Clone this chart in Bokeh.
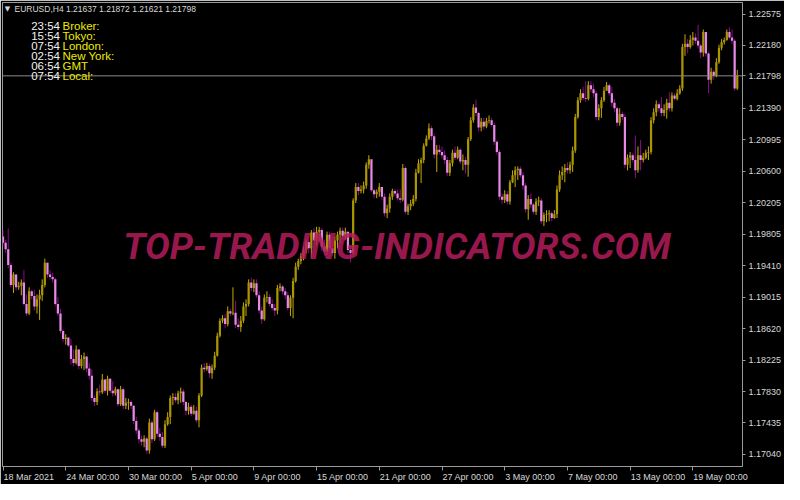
from bokeh.plotting import figure
from bokeh.models import (ColumnDataSource, FixedTicker, NumeralTickFormatter,
                          Label, Span, Range1d)
from bokeh.embed import file_html
from bokeh.resources import INLINE

# ---------------- data ----------------
symbol = "EURUSD,H4"
bar_ohlc_text = "1.21637 1.21872 1.21621 1.21798"
first_open = 1.1978
last_price = 1.21798

closes = [
    1.1970, 1.1962, 1.1942, 1.1917, 1.1930, 1.1914, 1.1916, 1.1920, 1.1893, 1.1881,
    1.1909, 1.1903, 1.1890, 1.1899, 1.1904, 1.1917, 1.1945, 1.1930, 1.1927, 1.1924,
    1.1893, 1.1881, 1.1859, 1.1849, 1.1851, 1.1841, 1.1824, 1.1819, 1.1836, 1.1815,
    1.1824, 1.1827, 1.1812, 1.1803, 1.1775, 1.1770, 1.1783, 1.1782, 1.1798, 1.1784,
    1.1799, 1.1784, 1.1781, 1.1786, 1.1767, 1.1786, 1.1765, 1.1769, 1.1770, 1.1765,
    1.1746, 1.1734, 1.1723, 1.1720, 1.1724, 1.1709, 1.1744, 1.1723, 1.1757, 1.1730,
    1.1726, 1.1715, 1.1742, 1.1751, 1.1775, 1.1776, 1.1772, 1.1781, 1.1783, 1.1770,
    1.1759, 1.1764, 1.1755, 1.1759, 1.1747, 1.1778, 1.1813, 1.1811, 1.1815, 1.1806,
    1.1813, 1.1828, 1.1853, 1.1872, 1.1875, 1.1868, 1.1884, 1.1881, 1.1882, 1.1867,
    1.1864, 1.1872, 1.1890, 1.1893, 1.1920, 1.1913, 1.1919, 1.1904, 1.1885, 1.1874,
    1.1901, 1.1902, 1.1893, 1.1888, 1.1885, 1.1913, 1.1915, 1.1909, 1.1904, 1.1888,
    1.1901, 1.1922, 1.1940, 1.1947, 1.1953, 1.1961, 1.1971, 1.1963, 1.1983, 1.1973,
    1.1984, 1.1986, 1.1965, 1.1959, 1.1980, 1.1963, 1.1957, 1.1973, 1.1980, 1.1985,
    1.1978, 1.1984, 1.1961, 1.1957, 1.2023, 1.2040, 1.2035, 1.2037, 1.2042, 1.2068,
    1.2075, 1.2036, 1.2031, 1.2034, 1.2040, 1.2028, 1.2007, 1.2013, 1.2028, 1.2035,
    1.2032, 1.2026, 1.2024, 1.2064, 1.2009, 1.2016, 1.2019, 1.2025, 1.2058, 1.2070,
    1.2074, 1.2092, 1.2101, 1.2114, 1.2104, 1.2081, 1.2087, 1.2084, 1.2080, 1.2074,
    1.2058, 1.2070, 1.2083, 1.2077, 1.2087, 1.2072, 1.2074, 1.2068, 1.2100, 1.2124,
    1.2140, 1.2133, 1.2115, 1.2122, 1.2116, 1.2123, 1.2124, 1.2118, 1.2097, 1.2084,
    1.2028, 1.2024, 1.2031, 1.2022, 1.2046, 1.2055, 1.2061, 1.2063, 1.2055, 1.2042,
    1.2012, 1.2025, 1.2018, 1.2009, 1.2022, 1.2023, 1.1997, 1.2005, 1.2006, 1.2007,
    1.2001, 1.2006, 1.2037, 1.2055, 1.2059, 1.2064, 1.2061, 1.2068, 1.2086, 1.2128,
    1.2149, 1.2158, 1.2152, 1.2151, 1.2168, 1.2163, 1.2158, 1.2128, 1.2139, 1.2149,
    1.2161, 1.2168, 1.2158, 1.2146, 1.2139, 1.2121, 1.2132, 1.2128, 1.2068, 1.2077,
    1.2080, 1.2074, 1.2061, 1.2080, 1.2074, 1.2077, 1.2083, 1.2084, 1.2124, 1.2134,
    1.2144, 1.2139, 1.2133, 1.2137, 1.2146, 1.2139, 1.2155, 1.2151, 1.2158, 1.2164,
    1.2216, 1.2220, 1.2216, 1.2225, 1.2228, 1.2224, 1.2218, 1.2209, 1.2235, 1.2208,
    1.2175, 1.2185, 1.2180, 1.2197, 1.2215, 1.2222, 1.2225, 1.2235, 1.2228, 1.2224,
    1.2164, 1.21798,
]

highs = [
    1.1986, 1.1974, 1.1988, 1.1945, 1.1933, 1.1931, 1.1921, 1.1924, 1.1936, 1.1905,
    1.1914, 1.1911, 1.1911, 1.1905, 1.1911, 1.1924, 1.1950, 1.1945, 1.1936, 1.1932,
    1.1926, 1.1902, 1.1887, 1.1861, 1.1855, 1.1851, 1.1849, 1.1836, 1.1841, 1.1836,
    1.1829, 1.1832, 1.1827, 1.1819, 1.1811, 1.1778, 1.1787, 1.1792, 1.1805, 1.1798,
    1.1803, 1.1800, 1.1796, 1.1789, 1.1787, 1.1790, 1.1788, 1.1775, 1.1774, 1.1772,
    1.1766, 1.1751, 1.1737, 1.1728, 1.1728, 1.1726, 1.1749, 1.1747, 1.1760, 1.1759,
    1.1737, 1.1732, 1.1747, 1.1757, 1.1778, 1.1781, 1.1781, 1.1784, 1.1788, 1.1786,
    1.1771, 1.1769, 1.1766, 1.1766, 1.1764, 1.1781, 1.1817, 1.1819, 1.1819, 1.1818,
    1.1817, 1.1833, 1.1857, 1.1875, 1.1879, 1.1880, 1.1890, 1.1887, 1.1914, 1.1897,
    1.1875, 1.1878, 1.1895, 1.1899, 1.1924, 1.1926, 1.1924, 1.1924, 1.1909, 1.1890,
    1.1905, 1.1909, 1.1905, 1.1899, 1.1893, 1.1917, 1.1919, 1.1917, 1.1913, 1.1908,
    1.1904, 1.1926, 1.1945, 1.1950, 1.1957, 1.1965, 1.1974, 1.1972, 1.1986, 1.1989,
    1.1990, 1.1990, 1.1989, 1.1974, 1.1984, 1.1984, 1.1976, 1.1978, 1.1984, 1.1989,
    1.1989, 1.1989, 1.1984, 1.1966, 1.2026, 1.2045, 1.2045, 1.2042, 1.2047, 1.2071,
    1.2080, 1.2075, 1.2038, 1.2037, 1.2045, 1.2040, 1.2032, 1.2018, 1.2032, 1.2038,
    1.2038, 1.2037, 1.2037, 1.2069, 1.2066, 1.2019, 1.2024, 1.2030, 1.2063, 1.2075,
    1.2077, 1.2095, 1.2105, 1.2120, 1.2117, 1.2107, 1.2093, 1.2093, 1.2091, 1.2086,
    1.2078, 1.2074, 1.2087, 1.2091, 1.2091, 1.2089, 1.2081, 1.2078, 1.2103, 1.2128,
    1.2144, 1.2150, 1.2135, 1.2127, 1.2127, 1.2127, 1.2130, 1.2127, 1.2121, 1.2099,
    1.2087, 1.2032, 1.2036, 1.2035, 1.2049, 1.2061, 1.2066, 1.2066, 1.2066, 1.2059,
    1.2045, 1.2030, 1.2032, 1.2020, 1.2026, 1.2028, 1.2026, 1.2008, 1.2011, 1.2011,
    1.2009, 1.2011, 1.2042, 1.2061, 1.2066, 1.2069, 1.2071, 1.2072, 1.2091, 1.2132,
    1.2153, 1.2163, 1.2166, 1.2173, 1.2173, 1.2173, 1.2170, 1.2161, 1.2144, 1.2153,
    1.2166, 1.2172, 1.2170, 1.2166, 1.2151, 1.2141, 1.2139, 1.2135, 1.2132, 1.2081,
    1.2084, 1.2083, 1.2105, 1.2091, 1.2099, 1.2083, 1.2087, 1.2091, 1.2128, 1.2139,
    1.2149, 1.2147, 1.2153, 1.2144, 1.2151, 1.2159, 1.2159, 1.2158, 1.2163, 1.2168,
    1.2220, 1.2232, 1.2226, 1.2231, 1.2235, 1.2233, 1.2244, 1.2220, 1.2238, 1.2235,
    1.2210, 1.2190, 1.2187, 1.2202, 1.2219, 1.2226, 1.2228, 1.2238, 1.2241, 1.2238,
    1.2226, 1.21872,
]

lows = [
    1.1966, 1.1957, 1.1938, 1.1914, 1.1907, 1.1910, 1.1911, 1.1904, 1.1891, 1.1878,
    1.1879, 1.1899, 1.1885, 1.1881, 1.1873, 1.1897, 1.1914, 1.1926, 1.1924, 1.1920,
    1.1890, 1.1878, 1.1856, 1.1845, 1.1842, 1.1839, 1.1817, 1.1815, 1.1817, 1.1811,
    1.1812, 1.1810, 1.1807, 1.1798, 1.1771, 1.1765, 1.1766, 1.1778, 1.1780, 1.1781,
    1.1778, 1.1781, 1.1777, 1.1778, 1.1764, 1.1765, 1.1761, 1.1761, 1.1760, 1.1761,
    1.1742, 1.1730, 1.1718, 1.1715, 1.1713, 1.1705, 1.1705, 1.1718, 1.1721, 1.1726,
    1.1721, 1.1712, 1.1712, 1.1740, 1.1742, 1.1766, 1.1769, 1.1767, 1.1769, 1.1766,
    1.1753, 1.1754, 1.1752, 1.1754, 1.1744, 1.1738, 1.1776, 1.1807, 1.1809, 1.1800,
    1.1799, 1.1810, 1.1827, 1.1851, 1.1869, 1.1863, 1.1865, 1.1878, 1.1879, 1.1863,
    1.1861, 1.1858, 1.1869, 1.1878, 1.1890, 1.1909, 1.1908, 1.1901, 1.1881, 1.1868,
    1.1872, 1.1895, 1.1890, 1.1885, 1.1878, 1.1880, 1.1909, 1.1905, 1.1899, 1.1885,
    1.1878, 1.1875, 1.1920, 1.1936, 1.1943, 1.1948, 1.1957, 1.1957, 1.1951, 1.1968,
    1.1967, 1.1972, 1.1960, 1.1954, 1.1955, 1.1960, 1.1953, 1.1950, 1.1963, 1.1970,
    1.1974, 1.1974, 1.1957, 1.1945, 1.1955, 1.2020, 1.2030, 1.2032, 1.2032, 1.2038,
    1.2063, 1.2034, 1.2026, 1.2026, 1.2028, 1.2024, 1.2003, 1.2001, 1.2008, 1.2024,
    1.2029, 1.2023, 1.2020, 1.2022, 1.2006, 1.2005, 1.2011, 1.2016, 1.2022, 1.2057,
    1.2045, 1.2070, 1.2091, 1.2099, 1.2099, 1.2076, 1.2059, 1.2081, 1.2076, 1.2069,
    1.2054, 1.2054, 1.2066, 1.2074, 1.2075, 1.2069, 1.2061, 1.2057, 1.2053, 1.2098,
    1.2121, 1.2129, 1.2110, 1.2110, 1.2112, 1.2114, 1.2120, 1.2116, 1.2093, 1.2081,
    1.2024, 1.2019, 1.2020, 1.2018, 1.2018, 1.2045, 1.2040, 1.2049, 1.2052, 1.2037,
    1.2008, 1.1999, 1.2014, 1.2006, 1.2005, 1.2016, 1.1994, 1.1991, 1.1996, 1.1997,
    1.1997, 1.2000, 1.2001, 1.2034, 1.2049, 1.2046, 1.2057, 1.2057, 1.2059, 1.2083,
    1.2126, 1.2146, 1.2149, 1.2147, 1.2149, 1.2159, 1.2153, 1.2124, 1.2124, 1.2127,
    1.2147, 1.2161, 1.2155, 1.2141, 1.2134, 1.2117, 1.2117, 1.2124, 1.2064, 1.2061,
    1.2064, 1.2071, 1.2051, 1.2058, 1.2061, 1.2071, 1.2075, 1.2074, 1.2081, 1.2120,
    1.2129, 1.2135, 1.2129, 1.2129, 1.2126, 1.2135, 1.2135, 1.2149, 1.2149, 1.2156,
    1.2161, 1.2205, 1.2208, 1.2214, 1.2218, 1.2220, 1.2214, 1.2202, 1.2204, 1.2204,
    1.2158, 1.2170, 1.2175, 1.2178, 1.2195, 1.2212, 1.2219, 1.2224, 1.2226, 1.2220,
    1.2161, 1.21621,
]

x_tick_bars = [0, 24, 48, 72, 96, 120, 144, 168, 192, 216, 240, 264]
x_tick_labels = ["18 Mar 2021", "24 Mar 00:00", "30 Mar 00:00", "5 Apr 00:00",
                 "9 Apr 00:00", "15 Apr 00:00", "21 Apr 00:00", "27 Apr 00:00",
                 "3 May 00:00", "7 May 00:00", "13 May 00:00", "19 May 00:00"]
y_ticks = [1.17040, 1.17435, 1.17830, 1.18225, 1.18620, 1.19015, 1.19410,
           1.19805, 1.20205, 1.20600, 1.20995, 1.21390, 1.22180, 1.22575]

clock_times = ["23:54", "15:54", "07:54", "02:54", "06:54", "07:54"]
clock_names = ["Broker:", "Tokyo:", "London:", "New York:", "GMT", "Local:"]
watermark = "TOP-TRADING-INDICATORS.COM"

# ---------------- derived ----------------
opens = [first_open] + closes[:-1]
idx = list(range(len(closes)))
bull_i = [i for i in idx if closes[i] >= opens[i]]
bear_i = [i for i in idx if closes[i] < opens[i]]


def pick(arr, ids):
    return [arr[i] for i in ids]


bull = ColumnDataSource(dict(x=bull_i, o=pick(opens, bull_i), c=pick(closes, bull_i),
                             h=pick(highs, bull_i), l=pick(lows, bull_i)))
bear = ColumnDataSource(dict(x=bear_i, o=pick(opens, bear_i), c=pick(closes, bear_i),
                             h=pick(highs, bear_i), l=pick(lows, bear_i)))

# ---------------- layout / style ----------------
FW, FH = 740, 464
X0, X1 = -0.2, 283.0
Y0, Y1 = 1.16888, 1.22720
dx = (X1 - X0) / FW
dy = (Y1 - Y0) / FH

FG = "#d8d8d8"
FRAME = "#9a9a9a"
BULL_BODY, BULL_WICK = "#ab9500", "#c4ac00"
BEAR_BODY, BEAR_WICK = "#e68ae6", "#8a0a8a"
AX_FONT, AX_SIZE = "Liberation Sans", 9

# MT4 writes the time labels starting at the tick: place each label centre
# half its (estimated) width to the right of its tick.
CHAR_W = {" ": 0.278, ":": 0.278, "M": 0.833, "A": 0.667, "a": 0.556, "r": 0.333,
          "p": 0.556, "y": 0.5}


def text_px(s):
    return sum(CHAR_W.get(ch, 0.556) for ch in s) * AX_SIZE


label_pos = [round(b + (text_px(t) / 2 + 0.5) * dx, 4)
             for b, t in zip(x_tick_bars, x_tick_labels)]

p = figure(frame_width=FW, frame_height=FH,
           x_range=Range1d(X0, X1), y_range=Range1d(Y0, Y1),
           y_axis_location="right", output_backend="svg", toolbar_location=None,
           background_fill_color="black", border_fill_color="black",
           min_border_left=2, min_border_top=2, min_border_bottom=4,
           min_border_right=4)
p.outline_line_color = FRAME
p.xgrid.grid_line_color = None
p.ygrid.grid_line_color = None

xa = p.xaxis[0]
xa.ticker = FixedTicker(ticks=label_pos, minor_ticks=x_tick_bars)
xa.major_label_overrides = {pos: t for pos, t in zip(label_pos, x_tick_labels)}
xa.major_tick_out = 3
xa.major_tick_in = 0
xa.major_tick_line_color = None
xa.minor_tick_out = 4
xa.minor_tick_in = 0
xa.minor_tick_line_color = FRAME
xa.axis_line_color = None
xa.major_label_text_font = AX_FONT
xa.major_label_text_font_size = f"{AX_SIZE}px"
xa.major_label_text_color = FG
xa.major_label_standoff = 1

ya = p.yaxis[0]
ya.ticker = FixedTicker(ticks=y_ticks + [last_price])
ya.formatter = NumeralTickFormatter(format="0.00000")
ya.major_tick_out = 3
ya.major_tick_in = 0
ya.minor_tick_line_color = None
ya.major_tick_line_color = FRAME
ya.axis_line_color = None
ya.major_label_text_font = AX_FONT
ya.major_label_text_font_size = f"{AX_SIZE}px"
ya.major_label_text_color = FG
ya.major_label_standoff = 3

# candles
p.segment(x0="x", y0="l", x1="x", y1="h", source=bull, line_color=BULL_WICK, line_width=1)
p.vbar(x="x", width=0.85, top="c", bottom="o", source=bull,
       fill_color=BULL_BODY, line_color=None)
p.segment(x0="x", y0="l", x1="x", y1="h", source=bear, line_color=BEAR_WICK, line_width=1)
p.vbar(x="x", width=0.85, top="o", bottom="c", source=bear,
       fill_color=BEAR_BODY, line_color=None)

# current price line
p.add_layout(Span(location=last_price, dimension="width", line_color="#8c8c8c", line_width=1))

# header
p.add_layout(Label(x=X0 + 5 * dx, y=Y1 - 6 * dy, text="\u25bc", text_align="center",
                   text_baseline="middle", text_font="DejaVu Sans",
                   text_font_size="7px", text_color=FG))
p.add_layout(Label(x=X0 + 12 * dx, y=Y1 - 6 * dy, text=f"{symbol}  {bar_ohlc_text}",
                   text_align="left", text_baseline="middle", text_font="Liberation Sans",
                   text_font_size="8.5px", text_color=FG))

# clock block
for k, (t, nm) in enumerate(zip(clock_times, clock_names)):
    yy = Y1 - (23 + 10 * k) * dy
    p.add_layout(Label(x=X0 + 57.5 * dx, y=yy, text=t, text_align="right",
                       text_baseline="middle", text_font="Liberation Sans",
                       text_font_size="11.5px", text_color="#f2f2f2"))
    p.add_layout(Label(x=X0 + 60 * dx, y=yy, text=nm, text_align="left",
                       text_baseline="middle", text_font="Liberation Sans",
                       text_font_size="11.5px", text_color="#ecec00"))

# watermark
p.add_layout(Label(x=X0 + 0.533 * (X1 - X0), y=Y1 - 0.525 * (Y1 - Y0), text=watermark,
                   text_align="center", text_baseline="middle", text_font="Roboto",
                   text_font_style="bold italic", text_font_size="37px",
                   text_color="#b51d5c", text_alpha=0.85))

open("out.html", "w").write(file_html(p, INLINE))
